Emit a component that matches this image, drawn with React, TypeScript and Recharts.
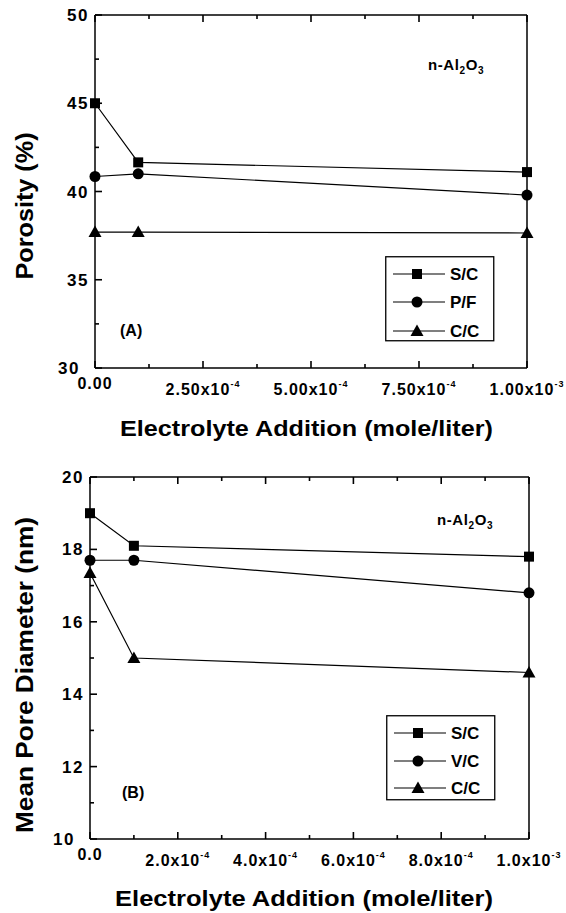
import React from "react";
import { LineChart, Line, XAxis, YAxis, Legend } from "recharts";

// x positions shared by both panels (mole/liter)
const electrolyte = [0, 1e-4, 1e-3];

// (A) porosity, %
const porositySC = [45.0, 41.65, 41.1];
const porosityPF = [40.85, 41.0, 39.8];
const porosityCC = [37.7, 37.7, 37.65];
const porosityNames = ["S/C", "P/F", "C/C"];

// (B) mean pore diameter, nm
const poreSC = [19.0, 18.1, 17.8];
const poreVC = [17.7, 17.7, 16.8];
const poreCC = [17.35, 15.0, 14.6];
const poreNames = ["S/C", "V/C", "C/C"];

const porosityXMajor = [0, 2.5e-4, 5e-4, 7.5e-4, 1e-3];
const porosityXMinor = [1.25e-4, 3.75e-4, 6.25e-4, 8.75e-4];
const porosityXLabels = ["0.00", "2.50x10", "5.00x10", "7.50x10", "1.00x10"];
const porosityXExps = ["", "-4", "-4", "-4", "-3"];
const porosityYMajor = [30, 35, 40, 45, 50];
const porosityYMinor = [32.5, 37.5, 42.5, 47.5];

const poreXMajor = [0, 2e-4, 4e-4, 6e-4, 8e-4, 1e-3];
const poreXMinor = [1e-4, 3e-4, 5e-4, 7e-4, 9e-4];
const poreXLabels = ["0.0", "2.0x10", "4.0x10", "6.0x10", "8.0x10", "1.0x10"];
const poreXExps = ["", "-4", "-4", "-4", "-4", "-3"];
const poreYMajor = [10, 12, 14, 16, 18, 20];
const poreYMinor = [11, 13, 15, 17, 19];

const FONT = "'Liberation Sans', Arial, sans-serif";
const SHAPES = ["square", "circle", "triangle"] as const;
// axes get a 1px band so recharts still draws them; margins below absorb it
const AXIS_BAND = 1;

type Side = "bottom" | "top" | "left" | "right";

/** Marker glyph used on the lines and in the legend. */
function Marker({ shape, cx, cy }: { shape: string; cx: number; cy: number }) {
  if (shape === "square") {
    return <rect x={cx - 5} y={cy - 5} width={10} height={10} fill="#000" />;
  }
  if (shape === "circle") {
    return <circle cx={cx} cy={cy} r={5.5} fill="#000" />;
  }
  return (
    <path d={`M${cx},${cy - 6.5} L${cx + 6.5},${cy + 5} L${cx - 6.5},${cy + 5} Z`} fill="#000" />
  );
}

/** Inward tick marks (long for majors, short for minors) plus optional labels. */
function makeTick(side: Side, majors: number[], labels?: string[], exps?: string[]) {
  return (props: any) => {
    const { x, y, payload } = props;
    const i = majors.findIndex((m) => Math.abs(m - payload.value) < 1e-9);
    const len = i >= 0 ? 7 : 4;
    const end =
      side === "bottom"
        ? [x, y - len]
        : side === "top"
        ? [x, y + len]
        : side === "left"
        ? [x + len, y]
        : [x - len, y];
    let label = null;
    if (labels && i >= 0) {
      if (side === "bottom") {
        label = (
          <text
            x={x}
            y={y + (i === 0 ? 21 : 27)}
            textAnchor="middle"
            fontFamily={FONT}
            fontWeight="bold"
            fontSize={16}
            letterSpacing={1}
            fill="#000"
          >
            {labels[i]}
            {exps && exps[i] ? (
              <tspan dy={-8} fontSize={9}>
                {exps[i]}
              </tspan>
            ) : null}
          </text>
        );
      } else if (side === "left") {
        label = (
          <text
            x={x - (i === 0 ? 15 : 6)}
            y={y + 6}
            textAnchor="end"
            fontFamily={FONT}
            fontWeight="bold"
            fontSize={17}
            letterSpacing={1.5}
            fill="#000"
          >
            {labels[i]}
          </text>
        );
      }
    }
    return (
      <g>
        <line x1={x} y1={y} x2={end[0]} y2={end[1]} stroke="#000" strokeWidth={1.6} />
        {label}
      </g>
    );
  };
}

function LegendBox({ names, rows }: { names: string[]; rows: number[] }) {
  return (
    <svg width={110} height={86} style={{ display: "block" }}>
      <rect x={0.75} y={0.75} width={108} height={84} fill="#fff" stroke="#000" strokeWidth={1.3} />
      {names.map((n, i) => (
        <g key={n}>
          <line x1={8} y1={rows[i]} x2={60} y2={rows[i]} stroke="#000" strokeWidth={1.2} />
          <Marker shape={SHAPES[i]} cx={32} cy={rows[i]} />
          <text x={65} y={rows[i] + 6} fontFamily={FONT} fontWeight="bold" fontSize={17} fill="#000">
            {n}
          </text>
        </g>
      ))}
    </svg>
  );
}

type PanelProps = {
  height: number;
  plot: { top: number; right: number; bottom: number; left: number };
  series: number[][];
  names: string[];
  xMajor: number[];
  xMinor: number[];
  xLabels: string[];
  xExps: string[];
  yMajor: number[];
  yMinor: number[];
  yTitle: string;
  yTitleCenter: number;
  yTitleLength: number;
  xTitleX: number;
  xTitleY: number;
  xTitleLength: number;
  alumina: [number, number];
  tag: string;
  tagPos: [number, number];
  legendPos: [number, number];
  legendRows: number[];
};

function Panel(p: PanelProps) {
  const data = electrolyte.map((x, i) => ({
    x,
    s0: p.series[0][i],
    s1: p.series[1][i],
    s2: p.series[2][i],
  }));
  const xDomain = [p.xMajor[0], p.xMajor[p.xMajor.length - 1]];
  const yDomain = [p.yMajor[0], p.yMajor[p.yMajor.length - 1]];
  const xTicks = [...p.xMajor, ...p.xMinor];
  const yTicks = [...p.yMajor, ...p.yMinor];
  const axisLine = { stroke: "#000", strokeWidth: 1.5 };
  const margin = {
    top: p.plot.top - AXIS_BAND,
    right: p.plot.right - AXIS_BAND,
    bottom: p.plot.bottom - AXIS_BAND,
    left: p.plot.left - AXIS_BAND,
  };

  const xTitle = () => (
    <text
      x={p.xTitleX}
      y={p.xTitleY}
      textLength={p.xTitleLength}
      lengthAdjust="spacingAndGlyphs"
      fontFamily={FONT}
      fontWeight="bold"
      fontSize={22}
      fill="#000"
    >
      Electrolyte Addition (mole/liter)
    </text>
  );

  const yTitleAndNotes = () => (
    <g>
      <text
        x={33}
        y={p.yTitleCenter}
        transform={`rotate(-90, 33, ${p.yTitleCenter})`}
        textAnchor="middle"
        textLength={p.yTitleLength}
        lengthAdjust="spacingAndGlyphs"
        fontFamily={FONT}
        fontWeight="bold"
        fontSize={24}
        fill="#000"
      >
        {p.yTitle}
      </text>
      <text
        x={p.alumina[0]}
        y={p.alumina[1]}
        fontFamily={FONT}
        fontWeight="bold"
        fontSize={15}
        letterSpacing={0.6}
        fill="#000"
      >
        n-Al
        <tspan dy={4} fontSize={10}>2</tspan>
        <tspan dy={-4}>O</tspan>
        <tspan dy={4} fontSize={10}>3</tspan>
      </text>
      <text x={p.tagPos[0]} y={p.tagPos[1]} fontFamily={FONT} fontWeight="bold" fontSize={16} fill="#000">
        {p.tag}
      </text>
    </g>
  );

  return (
    <LineChart width={566} height={p.height} data={data} margin={margin}>
      <XAxis
        dataKey="x"
        type="number"
        domain={xDomain}
        ticks={xTicks}
        interval={0}
        height={AXIS_BAND}
        tickSize={0}
        tickMargin={0}
        tickLine={false}
        axisLine={axisLine}
        tick={makeTick("bottom", p.xMajor, p.xLabels, p.xExps)}
        label={xTitle}
      />
      <XAxis
        xAxisId="top"
        orientation="top"
        dataKey="x"
        type="number"
        domain={xDomain}
        ticks={xTicks}
        interval={0}
        height={AXIS_BAND}
        tickSize={0}
        tickMargin={0}
        tickLine={false}
        axisLine={axisLine}
        tick={makeTick("top", p.xMajor)}
      />
      <YAxis
        type="number"
        domain={yDomain}
        ticks={yTicks}
        interval={0}
        width={AXIS_BAND}
        tickSize={0}
        tickMargin={0}
        tickLine={false}
        axisLine={axisLine}
        tick={makeTick("left", p.yMajor, p.yMajor.map(String))}
        label={yTitleAndNotes}
      />
      <YAxis
        yAxisId="right"
        orientation="right"
        type="number"
        domain={yDomain}
        ticks={yTicks}
        interval={0}
        width={AXIS_BAND}
        tickSize={0}
        tickMargin={0}
        tickLine={false}
        axisLine={axisLine}
        tick={makeTick("right", p.yMajor)}
      />
      <Legend
        layout="vertical"
        align="center"
        verticalAlign="middle"
        wrapperStyle={{ left: p.legendPos[0], top: p.legendPos[1], width: 110, height: 86 }}
        content={() => <LegendBox names={p.names} rows={p.legendRows} />}
      />
      {SHAPES.map((shape, i) => (
        <Line
          key={shape}
          dataKey={`s${i}`}
          name={p.names[i]}
          stroke="#000"
          strokeWidth={1.2}
          isAnimationActive={false}
          dot={(d: any) => <Marker key={`${shape}-${d.index}`} shape={shape} cx={d.cx} cy={d.cy} />}
          activeDot={false}
        />
      ))}
    </LineChart>
  );
}

export default function App() {
  return (
    <div style={{ position: "absolute", left: 0, top: 0, width: 566, height: 913, background: "#fff" }}>
      <Panel
        height={460}
        plot={{ top: 15, right: 39, bottom: 92, left: 95 }}
        series={[porositySC, porosityPF, porosityCC]}
        names={porosityNames}
        xMajor={porosityXMajor}
        xMinor={porosityXMinor}
        xLabels={porosityXLabels}
        xExps={porosityXExps}
        yMajor={porosityYMajor}
        yMinor={porosityYMinor}
        yTitle="Porosity (%)"
        yTitleCenter={206}
        yTitleLength={147}
        xTitleX={120}
        xTitleY={436}
        xTitleLength={373}
        alumina={[428, 70]}
        tag="(A)"
        tagPos={[120, 336]}
        legendPos={[385, 256]}
        legendRows={[18, 46, 75]}
      />
      <Panel
        height={453}
        plot={{ top: 17, right: 37, bottom: 74, left: 90 }}
        series={[poreSC, poreVC, poreCC]}
        names={poreNames}
        xMajor={poreXMajor}
        xMinor={poreXMinor}
        xLabels={poreXLabels}
        xExps={poreXExps}
        yMajor={poreYMajor}
        yMinor={poreYMinor}
        yTitle="Mean Pore Diameter (nm)"
        yTitleCenter={215}
        yTitleLength={316}
        xTitleX={115}
        xTitleY={446}
        xTitleLength={378}
        alumina={[437, 65]}
        tag="(B)"
        tagPos={[122, 338]}
        legendPos={[386, 255]}
        legendRows={[18, 46, 73]}
      />
    </div>
  );
}
